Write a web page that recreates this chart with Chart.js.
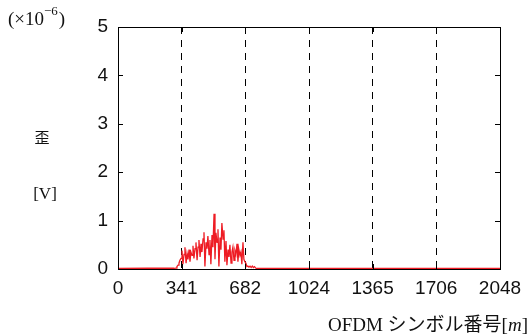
<!DOCTYPE html>
<html>
<head>
<meta charset="utf-8">
<script src="https://cdn.jsdelivr.net/npm/chart.js@4.4.1/dist/chart.umd.min.js"></script>
<style>
  html, body { margin: 0; padding: 0; background: #fff; }
  #wrap { width: 532px; height: 336px; position: relative; }
</style>
</head>
<body>
<div id="wrap"><canvas id="distChart"></canvas></div>
<script>
// symbol index m and distortion (x1e-6 V)
var symbols = [0, 160, 300, 311, 316, 322, 327, 332, 338, 343, 348, 354, 359, 365, 370, 375, 381, 386, 391,
  397, 402, 407, 413, 418, 424, 429, 434, 440, 445, 450, 456, 461, 466, 472, 477, 482, 488, 493, 498,
  504, 509, 515, 520, 525, 531, 536, 541, 547, 552, 557, 563, 568, 573, 579, 584, 590, 595, 600, 606,
  611, 616, 622, 627, 632, 638, 643, 648, 654, 659, 664, 670, 675, 680, 686, 691, 696, 702, 708, 714,
  720, 726, 732, 738, 745, 2048];
var distortion = [0.01, 0.015, 0.015, 0.02, 0.05, 0.08, 0.12, 0.18, 0.22, 0.38, 0.10, 0.30, 0.45, 0.12, 0.32,
  0.20, 0.40, 0.15, 0.35, 0.28, 0.48, 0.22, 0.42, 0.55, 0.18, 0.45, 0.60, 0.25, 0.52, 0.35, 0.62,
  0.76, 0.05, 0.55, 0.42, 0.68, 0.30, 0.60, 0.10, 0.70, 0.45, 1.14, 0.20, 0.75, 0.55, 0.82, 0.05,
  0.65, 0.40, 0.95, 0.62, 0.80, 0.15, 0.58, 0.08, 0.40, 0.25, 0.50, 0.12, 0.35, 0.45, 0.18, 0.38,
  0.30, 0.52, 0.15, 0.40, 0.28, 0.35, 0.10, 0.55, 0.20, 0.15, 0.12, 0.05, 0.06, 0.04, 0.06, 0.03,
  0.06, 0.03, 0.05, 0.02, 0.01, 0.01];
var xTicks = [0, 341, 682, 1024, 1365, 1706, 2048];
var yTicks = [0, 1, 2, 3, 4, 5];

var points = symbols.map(function (m, i) { return { x: m, y: distortion[i] }; });

// inward tick marks on all four sides plus the side labels
var frame = {
  id: 'frame',
  afterDraw: function (chart) {
    var c = chart.ctx, a = chart.chartArea;
    var xs = chart.scales.x, ys = chart.scales.y;
    c.save();
    c.strokeStyle = '#000';
    c.lineWidth = 1;
    c.beginPath();
    xTicks.forEach(function (v) {
      var px = Math.round(xs.getPixelForValue(v)) + 0.5;
      c.moveTo(px, a.bottom); c.lineTo(px, a.bottom - 5);
      c.moveTo(px, a.top); c.lineTo(px, a.top + 5);
    });
    yTicks.forEach(function (v) {
      var py = Math.round(ys.getPixelForValue(v)) + 0.5;
      c.moveTo(a.left, py); c.lineTo(a.left + 5, py);
      c.moveTo(a.right, py); c.lineTo(a.right - 5, py);
    });
    c.stroke();
    c.strokeRect(a.left + 0.5, a.top + 0.5, a.right - a.left, a.bottom - a.top);

    c.fillStyle = '#111';
    c.textBaseline = 'alphabetic';
    c.textAlign = 'left';
    c.font = '19px "Liberation Serif"';
    var x0 = 8;
    c.fillText('(×10', x0, 25);
    var w = c.measureText('(×10').width;
    c.font = '13px "Liberation Serif"';
    c.fillText('−6', x0 + w, 15);
    var w2 = c.measureText('−6').width;
    c.font = '19px "Liberation Serif"';
    c.fillText(')', x0 + w + w2 + 1, 25);

    c.textAlign = 'center';
    c.font = '15px "Noto Sans CJK JP"';
    c.fillText('歪', 42, 143);
    c.font = '17px "Liberation Serif"';
    c.fillText('[V]', 45, 199);

    c.textAlign = 'right';
    c.font = '19px "Liberation Serif", "Noto Sans CJK JP"';
    var tail = ']';
    c.fillText(tail, 528, 331);
    var tw = c.measureText(tail).width;
    c.font = 'italic 19px "Liberation Serif"';
    c.fillText('m', 528 - tw, 331);
    var mw = c.measureText('m').width;
    c.font = '19px "Liberation Serif", "Noto Sans CJK JP"';
    c.fillText('OFDM シンボル番号[', 528 - tw - mw, 331);
    c.restore();
  }
};

new Chart(document.getElementById('distChart'), {
  type: 'line',
  data: {
    datasets: [{
      data: points,
      borderColor: '#ee1c24',
      borderWidth: 1.3,
      pointRadius: 0,
      tension: 0
    }]
  },
  options: {
    responsive: true,
    maintainAspectRatio: false,
    animation: false,
    layout: { padding: { left: 0, right: 32, top: 27, bottom: 0 } },
    plugins: { legend: { display: false }, tooltip: { enabled: false } },
    scales: {
      x: {
        type: 'linear',
        min: 0,
        max: 2048,
        afterBuildTicks: function (s) { s.ticks = xTicks.map(function (v) { return { value: v }; }); },
        afterFit: function (s) { s.height = 67; },
        // dashed vertical grid lines
        border: { display: false, dash: [7, 6] },
        grid: {
          drawTicks: false,
          color: function (ctx) {
            var v = ctx.tick && ctx.tick.value;
            return (v > 0 && v < 2048) ? '#000' : 'rgba(0,0,0,0)';
          },
          lineWidth: 1
        },
        ticks: {
          padding: 8,
          maxRotation: 0,
          color: '#111',
          font: { family: '"Liberation Sans", Arial', size: 19 },
          callback: function (v) { return String(v); }
        }
      },
      y: {
        min: 0,
        max: 5,
        afterBuildTicks: function (s) { s.ticks = yTicks.map(function (v) { return { value: v }; }); },
        afterFit: function (s) { s.width = 118; },
        border: { display: false },
        grid: { display: false, drawTicks: false },
        ticks: {
          padding: 10,
          color: '#111',
          font: { family: '"Liberation Sans", Arial', size: 19 },
          callback: function (v) { return String(v); }
        }
      }
    }
  },
  plugins: [frame]
});
</script>
</body>
</html>
